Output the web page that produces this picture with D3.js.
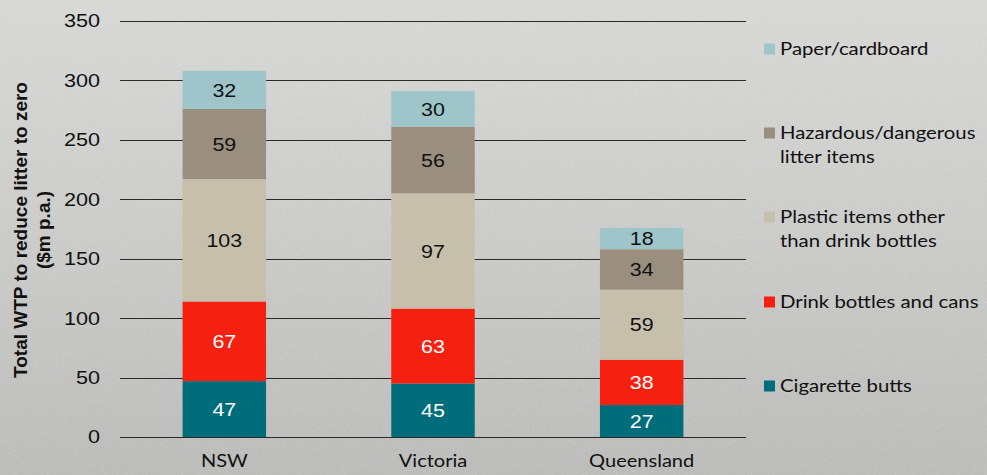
<!DOCTYPE html>
<html><head><meta charset="utf-8">
<script src="https://cdn.jsdelivr.net/npm/d3@7"></script>
<style>html,body{margin:0;padding:0;}svg{display:block;}</style>
</head><body>
<script>
const categories = ["NSW", "Victoria", "Queensland"];
const seriesNames = ["Cigarette butts", "Drink bottles and cans", "Plastic items other than drink bottles", "Hazardous/dangerous litter items", "Paper/cardboard"];
const cigarette = [47, 45, 27];
const drink = [67, 63, 38];
const plastic = [103, 97, 59];
const hazardous = [59, 56, 34];
const paper = [32, 30, 18];
const yTicks = [0, 50, 100, 150, 200, 250, 300, 350];
const legendLines = [["Paper/cardboard"], ["Hazardous/dangerous", "litter items"], ["Plastic items other", "than drink bottles"], ["Drink bottles and cans"], ["Cigarette butts"]];
const colors = ["#006e7a", "#f5200f", "#c6bfac", "#9a8f7e", "#9ec5c9"];
const labelColors = ["#ffffff", "#ffffff", "#111111", "#111111", "#111111"];

const W = 987, H = 475;
const svg = d3.select("body").append("svg").attr("width", W).attr("height", H);
const defs = svg.append("defs");
const g = defs.append("linearGradient").attr("id", "bg").attr("x1", 0).attr("y1", 0).attr("x2", 0).attr("y2", 1);
g.append("stop").attr("offset", "0%").attr("stop-color", "#d8d8d6");
g.append("stop").attr("offset", "55%").attr("stop-color", "#cacac8");
g.append("stop").attr("offset", "100%").attr("stop-color", "#bcbcba");
const f = defs.append("filter").attr("id", "noise").attr("x", 0).attr("y", 0).attr("width", "100%").attr("height", "100%");
f.append("feTurbulence").attr("type", "fractalNoise").attr("baseFrequency", "0.9 0.5").attr("numOctaves", 2).attr("seed", 3).attr("result", "t");
f.append("feColorMatrix").attr("in", "t").attr("type", "matrix")
  .attr("values", "0 0 0 0 1  0 0 0 0 1  0 0 0 0 1  0 0 0 1.6 -0.9");
svg.append("rect").attr("width", W).attr("height", H).attr("fill", "url(#bg)");
svg.append("rect").attr("width", W).attr("height", H).attr("filter", "url(#noise)").attr("opacity", 0.35);

const x = d3.scaleBand().domain(categories).range([120, 746]).paddingInner(0.6).paddingOuter(0.3);
const y = d3.scaleLinear().domain([0, 350]).range([437, 21]);

function sText(sel, px, py, sx) {
  return sel.attr("transform", `translate(${px},${py}) scale(${sx},1)`);
}

// gridlines
svg.append("g").selectAll("line").data(yTicks).join("line")
  .attr("x1", 120).attr("x2", 746)
  .attr("y1", d => Math.round(y(d)) + 0.5).attr("y2", d => Math.round(y(d)) + 0.5)
  .attr("stroke", "#2a2a2a").attr("stroke-width", 1);

// y tick labels
svg.append("g").selectAll("text").data(yTicks).join("text")
  .attr("transform", d => `translate(100,${y(d)}) scale(1.17,1)`)
  .attr("dy", "0.35em")
  .attr("text-anchor", "end").attr("font-family", "Liberation Sans, Arial, sans-serif")
  .attr("font-size", 18.5).attr("fill", "#111").text(d => d);

// y title
const yt = svg.append("text").attr("transform", "translate(0,230) rotate(-90)")
  .attr("text-anchor", "middle").attr("font-family", "Liberation Sans, Arial, sans-serif")
  .attr("font-size", 19).attr("font-weight", "bold").attr("fill", "#111");
yt.append("tspan").attr("x", 0).attr("y", 27).text("Total WTP to reduce litter to zero");
yt.append("tspan").attr("x", 0).attr("y", 50).text("($m p.a.)");

// stacked data
const table = categories.map((c, i) => ({cat: c, s0: cigarette[i], s1: drink[i], s2: plastic[i], s3: hazardous[i], s4: paper[i]}));
const stack = d3.stack().keys(["s0", "s1", "s2", "s3", "s4"])(table);

const layers = svg.append("g").selectAll("g").data(stack).join("g")
  .attr("fill", (d, i) => colors[i]);
layers.selectAll("rect").data(d => d).join("rect")
  .attr("x", d => x(d.data.cat)).attr("width", x.bandwidth())
  .attr("y", d => y(d[1])).attr("height", d => y(d[0]) - y(d[1]));

const lab = svg.append("g").selectAll("g").data(stack).join("g");
lab.each(function(layer, i) {
  d3.select(this).selectAll("text").data(layer).join("text")
    .attr("transform", d => `translate(${x(d.data.cat) + x.bandwidth() / 2},${(y(d[0]) + y(d[1])) / 2}) scale(1.16,1)`)
    .attr("dy", "0.36em")
    .attr("text-anchor", "middle").attr("font-family", "Liberation Sans, Arial, sans-serif")
    .attr("font-size", 18.5).attr("fill", labelColors[i])
    .text(d => d[1] - d[0]);
});

// x labels
svg.append("g").selectAll("text").data(categories).join("text")
  .attr("transform", d => `translate(${x(d) + x.bandwidth() / 2},467) scale(1.18,1)`)
  .attr("text-anchor", "middle").attr("font-family", "Lato, sans-serif")
  .attr("font-size", 17).attr("fill", "#111").text(d => d);

// legend
const legendY = [49, 133, 217, 302, 386];
const colorsTop = [colors[4], colors[3], colors[2], colors[1], colors[0]];
const lg = svg.append("g");
legendLines.forEach((lines, i) => {
  lg.append("rect").attr("x", 764).attr("y", legendY[i] - 5.5).attr("width", 11).attr("height", 11).attr("fill", colorsTop[i]);
  lines.forEach((t, j) => {
    lg.append("text").attr("transform", `translate(780,${legendY[i] + j * 24}) scale(1.13,1)`).attr("dy", "0.35em")
      .attr("font-family", "Lato, sans-serif").attr("font-size", 18).attr("fill", "#111").text(t);
  });
});
</script>
</body></html>
